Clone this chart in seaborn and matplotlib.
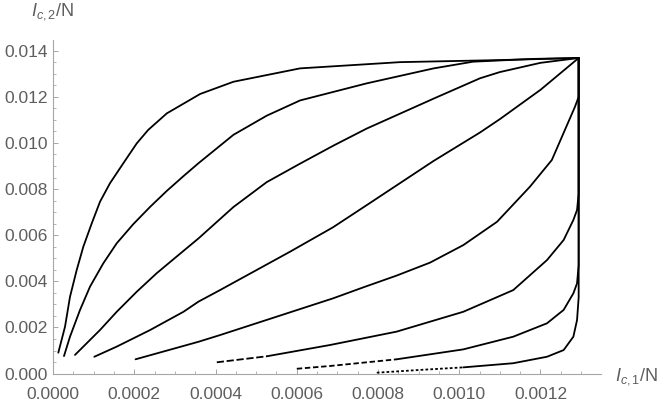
import matplotlib
matplotlib.use("Agg")
import matplotlib.pyplot as plt
from matplotlib.ticker import MultipleLocator, FormatStrFormatter
import seaborn as sns

# common end point (upper right corner) of all curves
x_end = 0.001294
y_end = 0.01368

# curves, from top-left to bottom-right
c1_x = [0.0000128, 0.0000293, 0.0000416, 0.0000581, 0.0000744, 0.0000951, 0.0001155, 0.00014,
        0.000173, 0.000206, 0.000234, 0.00028, 0.000362, 0.000444, 0.000608, 0.000854, 0.0011, x_end]
c1_y = [0.000906, 0.00203, 0.00333, 0.00449, 0.0055, 0.00651, 0.00745, 0.00825,
        0.00912, 0.00998, 0.01056, 0.01128, 0.01212, 0.01265, 0.01323, 0.0135, 0.01359, y_end]

c2_x = [0.0000268, 0.0000416, 0.0000663, 0.0000909, 0.0001236, 0.0001567, 0.0001975, 0.000239,
        0.00028, 0.000321, 0.000358, 0.000444, 0.000526, 0.000608, 0.000772, 0.000937,
        0.001034, 0.00118, x_end]
c2_y = [0.00076, 0.0016, 0.00276, 0.00377, 0.00478, 0.00565, 0.00648, 0.00723,
        0.00792, 0.00856, 0.00912, 0.01035, 0.01118, 0.01184, 0.01258, 0.01323,
        0.01352, 0.01364, y_end]

c3_x = [0.0000539, 0.0001155, 0.0001567, 0.000206, 0.000255, 0.000304, 0.000358, 0.000444,
        0.000526, 0.000608, 0.00069, 0.000772, 0.000937, 0.001051, 0.0011, 0.0012, x_end]
c3_y = [0.00081, 0.00189, 0.00268, 0.00355, 0.00435, 0.00507, 0.00586, 0.00722,
        0.0083, 0.0091, 0.00988, 0.01062, 0.01192, 0.0128, 0.01307, 0.01347, y_end]

c4_x = [0.0001015, 0.0001567, 0.000239, 0.000321, 0.000358, 0.000411, 0.000583, 0.000689,
        0.000772, 0.000937, 0.001051, 0.0011, 0.0012, x_end]
c4_y = [0.00073, 0.00117, 0.00189, 0.00268, 0.00312, 0.00362, 0.00528, 0.00634,
        0.0073, 0.00922, 0.01045, 0.01103, 0.0123, y_end]

c5_x = [0.000203, 0.000358, 0.000411, 0.000689, 0.000764, 0.000846, 0.000928, 0.00101,
        0.001093, 0.001174, 0.001228, 0.001285, x_end, x_end]
c5_y = [0.00062, 0.00138, 0.00167, 0.00326, 0.00374, 0.00425, 0.00481, 0.00557,
        0.00658, 0.0081, 0.00926, 0.01157, 0.012, y_end]

c6_x = [0.000403, 0.000526, 0.000682, 0.000846, 0.00101, 0.001133, 0.001216, 0.001257,
        0.001281, 0.00129, x_end, x_end]
c6_y = [0.00049, 0.00075, 0.00124, 0.00182, 0.00268, 0.00362, 0.00492, 0.00579,
        0.00666, 0.00709, 0.0078, y_end]

c7_x = [0.0006, 0.000682, 0.000846, 0.00101, 0.001133, 0.001216, 0.001257, 0.001281,
        0.00129, x_end, x_end]
c7_y = [0.00021, 0.00033, 0.00062, 0.00105, 0.0016, 0.00218, 0.00276, 0.00348,
        0.00391, 0.0047, y_end]

c8_x = [0.000797, 0.000904, 0.00101, 0.001133, 0.001216, 0.001257, 0.001281, 0.00129,
        x_end, x_end]
c8_y = [0.00004, 0.00016, 0.00027, 0.00045, 0.00073, 0.00102, 0.0016, 0.00232,
        0.0033, y_end]

curves = [(c1_x, c1_y), (c2_x, c2_y), (c3_x, c3_y), (c4_x, c4_y),
          (c5_x, c5_y), (c6_x, c6_y), (c7_x, c7_y), (c8_x, c8_y)]

# the lowest curves look broken up near their start; index of last "broken" point + dash pattern
broken_start = {5: (1, (0, (4, 1.5))), 6: (2, (0, (3, 1.5))), 7: (2, (0, (1.5, 1.2)))}

sns.set_style("white")
plt.rcParams['font.family'] = ['Liberation Sans', 'DejaVu Sans']
plt.rcParams['mathtext.fontset'] = 'custom'
plt.rcParams['mathtext.rm'] = 'Liberation Sans'
plt.rcParams['mathtext.it'] = 'Liberation Sans:italic'

axis_gray = '#a6a6a6'
text_gray = '#5e5e5e'

fig = plt.figure(figsize=(6.66, 4.01), dpi=100)
ax = fig.add_axes([53.1 / 666, 27.4 / 401, (601 - 53.1) / 666, (373.6 - 40) / 401])

for i, (xs, ys) in enumerate(curves):
    if i in broken_start:
        k, ls = broken_start[i]
        sns.lineplot(x=xs[:k + 1], y=ys[:k + 1], sort=False, estimator=None, ax=ax,
                     color='black', lw=1.3, linestyle=ls)
        sns.lineplot(x=xs[k:], y=ys[k:], sort=False, estimator=None, ax=ax,
                     color='black', lw=1.3)
    else:
        sns.lineplot(x=xs, y=ys, sort=False, estimator=None, ax=ax, color='black', lw=1.3)

ax.set_xlim(0, 0.001349)
ax.set_ylim(0, 0.01446)

ax.xaxis.set_major_locator(MultipleLocator(0.0002))
ax.xaxis.set_minor_locator(MultipleLocator(0.00005))
ax.yaxis.set_major_locator(MultipleLocator(0.002))
ax.yaxis.set_minor_locator(MultipleLocator(0.0005))
ax.xaxis.set_major_formatter(FormatStrFormatter('%.4f'))
ax.yaxis.set_major_formatter(FormatStrFormatter('%.3f'))

for side in ['top', 'right']:
    ax.spines[side].set_visible(False)
for side in ['left', 'bottom']:
    ax.spines[side].set_color(axis_gray)
    ax.spines[side].set_linewidth(0.8)

ax.tick_params(which='both', bottom=True, left=True, top=False, right=False)
ax.tick_params(which='major', direction='in', length=3.6, width=0.7, color=axis_gray,
               labelcolor=text_gray, labelsize=12.5)
ax.tick_params(which='minor', direction='in', length=2.2, width=0.6, color=axis_gray)
ax.tick_params(axis='x', which='major', pad=9.5)
ax.tick_params(axis='y', which='major', pad=3.5)
ax.set_xlabel('')
ax.set_ylabel('')

fig.text(53 / 666, 1 - 12 / 401, r'$I_{c,2}$/N', ha='center', va='center',
         fontsize=13, color=text_gray)
fig.text(615 / 666, 1 - 377 / 401, r'$I_{c,1}$/N', ha='left', va='center',
         fontsize=13, color=text_gray)

fig.savefig('out.png', dpi=100)
